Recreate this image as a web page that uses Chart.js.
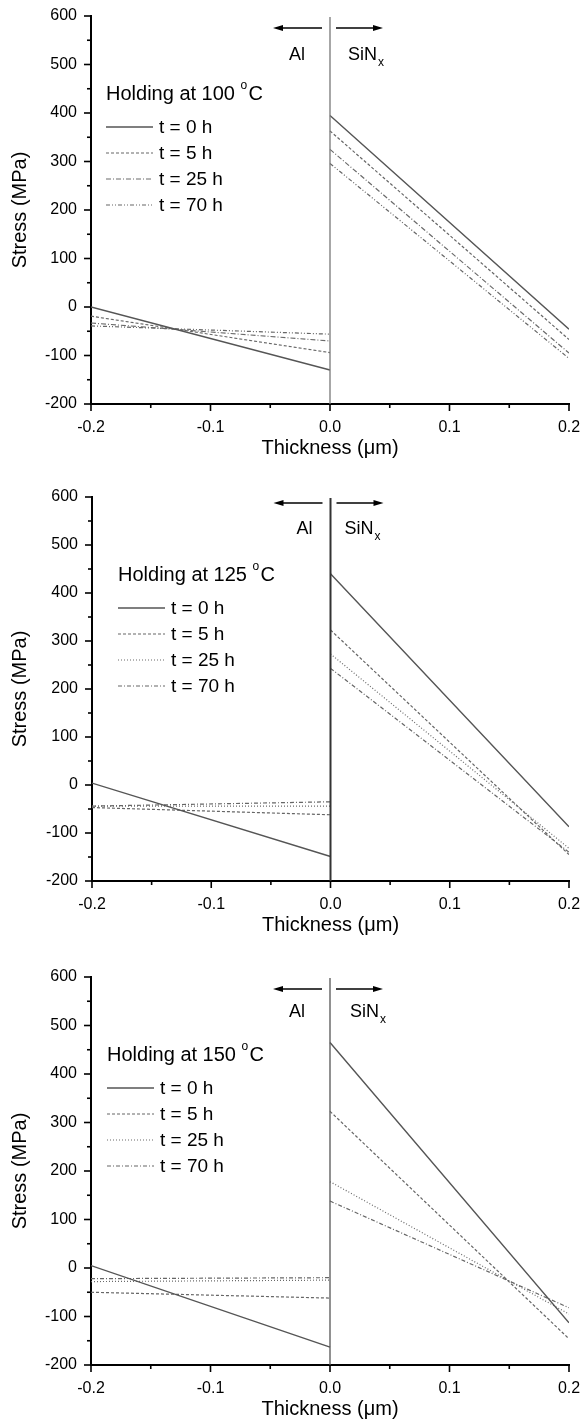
<!DOCTYPE html>
<html>
<head>
<meta charset="utf-8">
<script src="https://cdn.jsdelivr.net/npm/chart.js@4.4.0/dist/chart.umd.min.js"></script>
<style>
  html, body { margin: 0; padding: 0; background: #fff; overflow: hidden; }
  #wrap { position: relative; width: 581px; height: 1425px; }
  #wrap canvas { position: absolute; left: 0; }
</style>
</head>
<body>
<div id="wrap"></div>
<script>
const hours = [0, 5, 25, 70]
const temps = [100, 125, 150]
const alX = [-0.2, 0]
const sinX = [0, 0.2]
const xTickLabels = ['-0.2', '-0.1', '0.0', '0.1', '0.2']
const yTickLabels = [-200, -100, 0, 100, 200, 300, 400, 500, 600]

// stress in MPa at both ends of each layer, one value per holding time
const alStart100 = [0, -19, -33, -39]
const alEnd100 = [-130, -94, -70, -56]
const sinStart100 = [395, 363, 325, 296]
const sinEnd100 = [-46, -67, -95, -106]

const alStart125 = [4, -47, -44, -44]
const alEnd125 = [-149, -62, -44, -35]
const sinStart125 = [440, 323, 273, 243]
const sinEnd125 = [-87, -145, -132, -140]

const alStart150 = [5, -50, -28, -22]
const alEnd150 = [-163, -62, -25, -20]
const sinStart150 = [465, 323, 178, 138]
const sinEnd150 = [-113, -146, -95, -82]

const FONT = '"Liberation Sans", Arial, Helvetica, sans-serif'

const panels = [
  { top: 0, plotH: 388, left: 91, al: [alStart100, alEnd100], sin: [sinStart100, sinEnd100],
    legendDx: 15, arrowDy: 12, labelDy: 39, alDx: -33, sinDx: 18, divider: { color: '#777', width: 1.3 },
    dashes: [[], [3, 2], [5, 2, 1, 2], [4, 2, 1, 2, 1, 2]] },
  { top: 481, plotH: 384, left: 92, al: [alStart125, alEnd125], sin: [sinStart125, sinEnd125],
    legendDx: 26, arrowDy: 6, labelDy: 32, alDx: -26, sinDx: 14, divider: { color: '#333', width: 2 },
    dashes: [[], [3, 2], [1, 2], [4, 2, 1, 2]] },
  { top: 961, plotH: 388, left: 91, al: [alStart150, alEnd150], sin: [sinStart150, sinEnd150],
    legendDx: 16, arrowDy: 12, labelDy: 35, alDx: -33, sinDx: 20, divider: { color: '#555', width: 1.3 },
    dashes: [[], [3, 2], [1, 2], [4, 2, 1, 2]] },
]
const lineColors = ['#555', '#666', '#6a6a6a', '#666']

const isMajor = (v, step) => Math.abs(v / step - Math.round(v / step)) < 1e-6

function arrow(ctx, x1, x2, y) {
  const dir = Math.sign(x2 - x1)
  ctx.beginPath()
  ctx.moveTo(x1, y)
  ctx.lineTo(x2 - dir * 8, y)
  ctx.stroke()
  ctx.beginPath()
  ctx.moveTo(x2, y)
  ctx.lineTo(x2 - dir * 10, y - 3)
  ctx.lineTo(x2 - dir * 10, y + 3)
  ctx.closePath()
  ctx.fill()
}

// ticks, interface line, layer labels and the in-plot legend
const decor = {
  id: 'decor',
  afterDraw(chart, args, opts) {
    const { ctx, chartArea: a, scales: { x, y } } = chart
    ctx.save()
    ctx.strokeStyle = '#000'
    ctx.fillStyle = '#000'
    ctx.lineWidth = 1.6
    x.ticks.forEach(t => {
      const px = x.getPixelForValue(t.value)
      const len = isMajor(t.value, 0.1) ? 7 : 4
      ctx.beginPath(); ctx.moveTo(px, a.bottom); ctx.lineTo(px, a.bottom + len); ctx.stroke()
    })
    y.ticks.forEach(t => {
      const py = y.getPixelForValue(t.value)
      const len = isMajor(t.value, 100) ? 7 : 4
      ctx.beginPath(); ctx.moveTo(a.left, py); ctx.lineTo(a.left - len, py); ctx.stroke()
    })

    // Al / SiNx interface
    const x0 = x.getPixelForValue(0)
    ctx.strokeStyle = opts.divider.color
    ctx.lineWidth = opts.divider.width
    ctx.beginPath(); ctx.moveTo(x0, a.top + 1); ctx.lineTo(x0, a.bottom); ctx.stroke()

    ctx.strokeStyle = '#000'
    ctx.lineWidth = 1.3
    const ay = a.top + opts.arrowDy
    arrow(ctx, x0 - 8, x0 - 57, ay)
    arrow(ctx, x0 + 6, x0 + 53, ay)

    ctx.font = '18px ' + FONT
    ctx.textBaseline = 'middle'
    ctx.textAlign = 'center'
    const ly = a.top + opts.labelDy
    ctx.fillText('Al', x0 + opts.alDx, ly)
    ctx.textAlign = 'left'
    const sx = x0 + opts.sinDx
    ctx.fillText('SiN', sx, ly)
    const sw = ctx.measureText('SiN').width
    ctx.font = '12px ' + FONT
    ctx.fillText('x', sx + sw + 1, ly + 8)

    // legend
    const lx = a.left + opts.legendDx
    ctx.font = '20px ' + FONT
    const head = 'Holding at ' + opts.temp + ' '
    ctx.fillText(head, lx, a.top + 78)
    const hw = ctx.measureText(head).width
    ctx.font = '12px ' + FONT
    ctx.fillText('o', hw + lx, a.top + 70)
    ctx.font = '20px ' + FONT
    ctx.fillText('C', hw + lx + 8, a.top + 78)

    ctx.font = '19px ' + FONT
    chart.data.datasets.forEach((ds, k) => {
      const ey = a.top + 111 + k * 26
      ctx.save()
      ctx.strokeStyle = ds.borderColor
      ctx.lineWidth = ds.borderWidth
      ctx.setLineDash(ds.borderDash)
      ctx.beginPath(); ctx.moveTo(lx, ey); ctx.lineTo(lx + 47, ey); ctx.stroke()
      ctx.restore()
      ctx.fillText(ds.label, lx + 53, ey + 1)
    })
    ctx.restore()
  }
}

const wrap = document.getElementById('wrap')

panels.forEach((p, i) => {
  const canvas = document.createElement('canvas')
  canvas.width = 581
  canvas.height = 16 + p.plotH + 60
  canvas.style.top = p.top + 'px'
  wrap.appendChild(canvas)

  const datasets = hours.map((h, k) => ({
    label: 't = ' + h + ' h',
    data: [
      { x: alX[0], y: p.al[0][k] },
      { x: alX[1], y: p.al[1][k] },
      { x: 0, y: null },
      { x: sinX[0], y: p.sin[0][k] },
      { x: sinX[1], y: p.sin[1][k] },
    ],
    borderColor: lineColors[k],
    borderWidth: k === 0 ? 1.4 : 1.2,
    borderDash: p.dashes[k],
    pointRadius: 0,
    spanGaps: false,
    tension: 0,
  }))

  new Chart(canvas, {
    type: 'line',
    data: { datasets },
    plugins: [decor],
    options: {
      responsive: false,
      animation: false,
      devicePixelRatio: 1,
      layout: { padding: { top: 16, right: 12, left: 0, bottom: 0 } },
      plugins: {
        legend: { display: false },
        tooltip: { enabled: false },
        decor: Object.assign({ temp: temps[i] }, p),
      },
      scales: {
        x: {
          type: 'linear',
          min: alX[0],
          max: sinX[1],
          afterFit: s => { s.height = 60; s.paddingLeft = 0; s.paddingRight = 0 },
          grid: { display: false },
          border: { color: '#000', width: 2 },
          ticks: {
            stepSize: 0.05,
            autoSkip: false,
            maxRotation: 0,
            padding: 6,
            color: '#000',
            font: { family: FONT, size: 16 },
            callback: v => isMajor(v, 0.1) ? xTickLabels[Math.round(v * 10) + 2] : '',
          },
          title: {
            display: true,
            text: 'Thickness (μm)',
            color: '#000',
            font: { family: FONT, size: 20 },
            padding: { top: 0, bottom: 4 },
          },
        },
        y: {
          min: yTickLabels[0],
          max: yTickLabels[yTickLabels.length - 1],
          afterFit: s => { s.width = p.left; s.paddingTop = 0; s.paddingBottom = 0 },
          grid: { display: false },
          border: { color: '#000', width: 2 },
          ticks: {
            stepSize: 50,
            autoSkip: false,
            padding: 6,
            color: '#000',
            font: { family: FONT, size: 16 },
            callback: v => isMajor(v, 100) ? String(v) : '',
          },
          title: {
            display: true,
            text: 'Stress (MPa)',
            color: '#000',
            font: { family: FONT, size: 20 },
            padding: { top: 8, bottom: 0 },
          },
        },
      },
    },
  })
})
</script>
</body>
</html>
